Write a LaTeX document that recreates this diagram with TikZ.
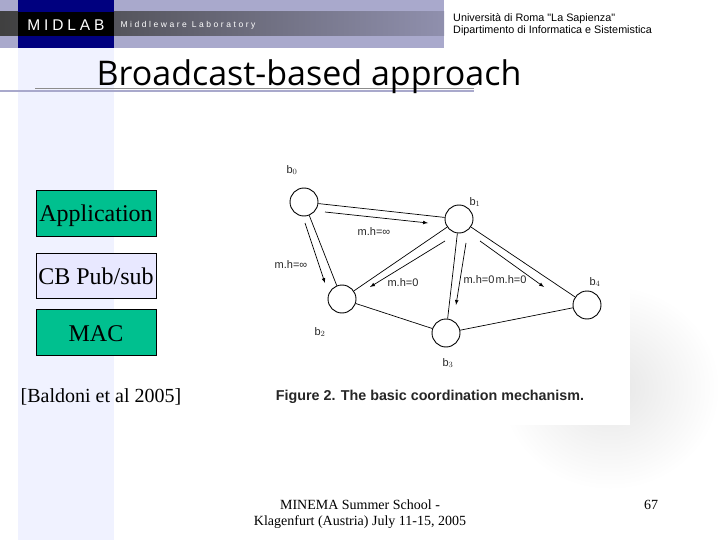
\documentclass[tikz,border=0pt]{standalone}
\usepackage{fontspec}
\setmainfont{Liberation Serif}
\newfontfamily\figfont{Liberation Sans}
\newfontfamily\headfont[LetterSpace=25]{Liberation Sans}
\newfontfamily\subfont[LetterSpace=30]{Liberation Sans}
\newfontfamily\titlefont{Open Sans}
\definecolor{bandlav}{HTML}{A9A9CC}
\definecolor{sidelav}{HTML}{F0F2FF}
\definecolor{navyhead}{HTML}{00007F}
\definecolor{boxgreen}{HTML}{00C08F}
\definecolor{boxlav}{HTML}{E8E8FF}
\tikzset{
    layerbox/.style={draw=black, minimum width=120pt, inner sep=0pt, text height=18pt, text depth=0pt, font=\fontsize{24}{24}\selectfont},
    broker/.style={draw=black, line width=0.9pt, circle, fill=white, minimum size=28pt, inner sep=0pt},
    figlabel/.style={font=\figfont\fontsize{11}{11}\selectfont, text=black!85, inner sep=0pt},
    msgarrow/.style={-latex, line width=0.7pt},
    link/.style={line width=0.7pt}
}
\begin{document}
\begin{tikzpicture}[x=1pt, y=-1pt]
            \useasboundingbox (0,0) rectangle (720,540);

            % Draw sidebar and shadow behind the figure
            \fill[sidelav] (18,48) rectangle (114,540);
            \shade[inner color=black!10, outer color=white] (500,285) rectangle (720,490);
            \fill[white] (258,150) rectangle (630,425);

            % Draw header
            \fill[bandlav] (0,0) rectangle (444,48);
            \shade[left color=black!75, right color=bandlav!85!black] (0,12) rectangle (444,36);
            \fill[navyhead] (18,0) rectangle (114,48);
            \fill[black] (18,12) rectangle (114,36);
            \node[text=white, font=\headfont\fontsize{15.5}{15.5}\selectfont] (midlab) at (66,25) {MIDLAB};
            \node[text=white, font=\subfont\fontsize{8.5}{8.5}\selectfont] (midware) at (188,25) {Middleware Laboratory};
            \node[align=left, anchor=west, inner sep=0pt, font=\figfont\fontsize{10.8}{12.5}\selectfont] (univ) at (453,24.5) {Università di Roma "La Sapienza"\\Dipartimento di Informatica e Sistemistica};

            % Draw title and rules
            \fill[bandlav] (0,90) rectangle (474,92);
            \fill[black!45] (35,88) rectangle (474,89);
            \node[font=\titlefont\fontsize{34}{34}\selectfont] (title) at (309,77) {Broadcast-based approach};

            % Draw layers
            \node[layerbox, fill=boxgreen, minimum height=46pt] (app) at (96,213) {Application};
            \node[layerbox, fill=boxlav, minimum height=45pt] (cb) at (96,275.5) {CB Pub/sub};
            \node[layerbox, fill=boxgreen, minimum height=46pt] (mac) at (96,332) {MAC};
            \node[font=\fontsize{20}{20}\selectfont] (ref) at (101,397) {[Baldoni et al 2005]};

            % Draw brokers
            \node[broker] (b0) at (304,202) {};
            \node[broker] (b1) at (459,219) {};
            \node[broker] (b2) at (342,299) {};
            \node[broker] (b3) at (446,333) {};
            \node[broker] (b4) at (587,305) {};

            % Draw links
            \draw[link] (b0) -- (b1);
            \draw[link] (b0) -- (b2);
            \draw[link] (b1) -- (b2);
            \draw[link] (b1) -- (b3);
            \draw[link] (b1) -- (b4);
            \draw[link] (b2) -- (b3);
            \draw[link] (b3) -- (b4);

            % Draw message arrows
            \coordinate (s01) at (325,212);
            \coordinate (e01) at (428,223);
            \coordinate (s02) at (305,223);
            \coordinate (e02) at (325,283);
            \coordinate (s12) at (445,241);
            \coordinate (e12) at (370,287);
            \coordinate (s13) at (466,243);
            \coordinate (e13) at (456,305);
            \coordinate (s14) at (480,241);
            \coordinate (e14) at (544,287);
            \draw[msgarrow] (s01) -- (e01);
            \draw[msgarrow] (s02) -- (e02);
            \draw[msgarrow] (s12) -- (e12);
            \draw[msgarrow] (s13) -- (e13);
            \draw[msgarrow] (s14) -- (e14);

            % Labels
            \node[figlabel] (lb0) at (292,170) {b$_0$};
            \node[figlabel] (lb1) at (475,202) {b$_1$};
            \node[figlabel] (lb2) at (320,332) {b$_2$};
            \node[figlabel] (lb3) at (448,363) {b$_3$};
            \node[figlabel] (lb4) at (595,282) {b$_4$};
            \node[figlabel] (m01) at (374,232) {m.h=∞};
            \node[figlabel] (m02) at (291,265) {m.h=∞};
            \node[figlabel] (m12) at (403,283) {m.h=0};
            \node[figlabel] (m13) at (479,279.5) {m.h=0};
            \node[figlabel] (m14) at (511,279.5) {m.h=0};
            \node[font=\figfont\bfseries\fontsize{14.3}{14.3}\selectfont, text=black!85] (caption) at (430,396.5) {Figure 2. The basic coordination mechanism.};

            % Footer
            \node[align=center, font=\fontsize{14}{16}\selectfont] (footer) at (360,514) {MINEMA Summer School -\\Klagenfurt (Austria) July 11-15, 2005};
            \node[font=\fontsize{14}{14}\selectfont] (page) at (651,505) {67};
        \end{tikzpicture}
\end{document}
